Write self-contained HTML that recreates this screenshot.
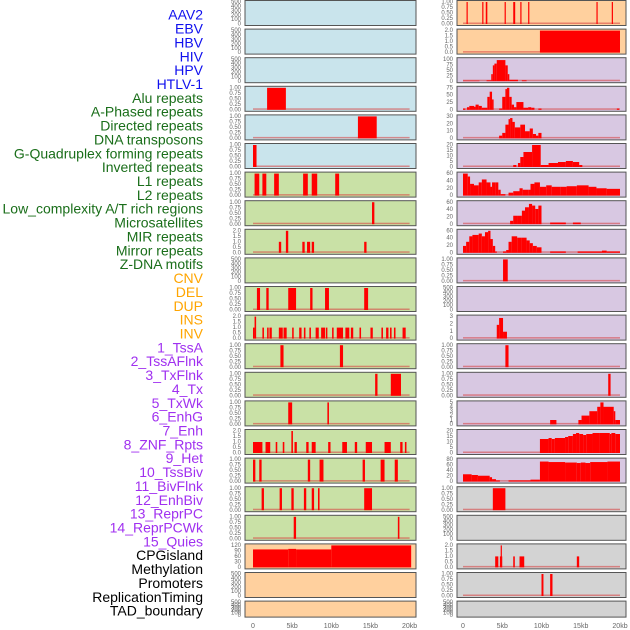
<!DOCTYPE html>
<html><head><meta charset="utf-8">
<style>
body{margin:0;background:#fff;}
svg{display:block;font-family:"Liberation Sans",sans-serif;}
</style></head>
<body>
<svg id="chart" width="630" height="630" viewBox="0 0 630 630"></svg>
<script>
const trackLabels=["AAV2","EBV","HBV","HIV","HPV","HTLV-1","Alu repeats","A-Phased repeats","Directed repeats","DNA transposons","G-Quadruplex forming repeats","Inverted repeats","L1 repeats","L2 repeats","Low_complexity A/T rich regions","Microsatellites","MIR repeats","Mirror repeats","Z-DNA motifs","CNV","DEL","DUP","INS","INV","1_TssA","2_TssAFlnk","3_TxFlnk","4_Tx","5_TxWk","6_EnhG","7_Enh","8_ZNF_Rpts","9_Het","10_TssBiv","11_BivFlnk","12_EnhBiv","13_ReprPC","14_ReprPCWk","15_Quies","CPGisland","Methylation","Promoters","ReplicationTiming","TAD_boundary"];
const labelColors=[].concat(Array(6).fill("#1010ee"),Array(13).fill("#1a6e1a"),Array(5).fill("#ffa500"),Array(15).fill("#a030f0"),Array(5).fill("#000"));
const xTickValues=[0,5,10,15,20];
const xTickLabels=["0","5kb","10kb","15kb","20kb"];
const leftBg=["b","b","b","b","b","b","g","g","g","g","g","g","g","g","g","g","g","g","g","o","o","o"];
const rightBg=["o","o","p","p","p","p","p","p","p","p","p","p","p","p","p","p","p","y","y","y","y","y"];
const leftMax=[null,null,null,1,1,1,1,1,2,null,1,2,1,1,1,2,1,1,1,120,null,null];
const rightMax=[1,2,125,85,40,22,75,65,80,1,null,3.2,1,1,5,22,90,1,null,2,1,null];
const leftTicks=[null,null,null,"1.00,0.75,0.50,0.25,0.00","1.00,0.75,0.50,0.25,0.00","1.00,0.75,0.50,0.25,0.00","1.00,0.75,0.50,0.25,0.00","1.00,0.75,0.50,0.25,0.00","2.0,1.5,1.0,0.5,0.0",null,"1.00,0.75,0.50,0.25,0.00","2.0,1.5,1.0,0.5,0.0","1.00,0.75,0.50,0.25,0.00","1.00,0.75,0.50,0.25,0.00","1.00,0.75,0.50,0.25,0.00","2.0,1.5,1.0,0.5,0.0","1.00,0.75,0.50,0.25,0.00","1.00,0.75,0.50,0.25,0.00","1.00,0.75,0.50,0.25,0.00","120,90,60,30,0",null,null];
const rightTicks=["1.00,0.75,0.50,0.25,0.00","2.0,1.5,1.0,0.5,0.0","100,75,50,25,0","75,50,25,0","30,20,10,0","20,15,10,5,0","60,40,20,0","60,40,20,0","60,40,20,0","1.00,0.75,0.50,0.25,0.00",null,"3,2,1,0","1.00,0.75,0.50,0.25,0.00","1.00,0.75,0.50,0.25,0.00","5,4,3,2,1,0","20,15,10,5,0","80,60,40,20,0","1.00,0.75,0.50,0.25,0.00",null,"2.0,1.5,1.0,0.5,0.0","1.00,0.75,0.50,0.25,0.00",null];
const leftData=[[],[],[],
[[1.8,4.2,1]],
[[13.4,15.8,1]],
[[0,0.45,1]],
[[0.2,0.8,1],[1.2,1.7,1],[2.7,3.3,1],[6.4,7.0,1],[7.5,8.2,1],[10.5,11.0,1]],
[[15.2,15.5,1]],
[[3.3,3.6,1],[4.2,4.5,2],[6.3,6.6,1],[6.9,7.3,1],[7.5,7.8,1],[14.2,14.5,1]],
[],
[[0.5,0.9,1],[1.7,2.0,1],[4.5,5.5,1],[7.3,7.6,1],[9.2,9.7,1],[14.2,14.7,1]],
[[0,0.2,1],[0.2,0.4,2],[1.2,1.4,1],[1.8,2.0,1],[2.1,2.4,1],[3.3,3.8,1],[3.9,4.3,1],[5.0,5.2,1],[5.9,6.2,1],[6.5,6.7,1],[7.2,7.4,1],[8.0,8.4,1],[8.7,9.2,1],[9.3,9.5,1],[10.1,10.3,1],[10.7,11.5,1],[11.8,12.3,1],[12.5,12.8,1],[13.6,13.8,1],[15.0,15.3,1],[16.4,16.6,1],[17.0,17.3,1],[17.5,17.7,1],[18.0,18.2,1],[19.1,19.5,1]],
[[3.5,3.9,1],[11.1,11.5,1]],
[[15.6,15.9,1],[17.6,18.9,1]],
[[4.5,5.0,1],[9.5,9.7,1]],
[[0,1.2,1],[1.6,2.2,1],[2.9,3.1,1],[3.8,4.0,1],[4.9,5.1,2],[5.3,5.6,1],[6.8,7.1,1],[7.5,8.0,1],[9.6,9.9,1],[11.4,12.0,1],[13.0,13.3,1],[14.4,15.2,1],[16.8,17.6,1],[18.8,19.1,1],[19.4,19.6,1]],
[[0,0.3,1],[0.8,1.1,1],[7.0,7.3,1],[8.5,9.0,1],[14.0,14.3,1],[16.3,16.8,1],[18.1,18.5,1]],
[[1.1,1.4,1],[3.4,3.7,1],[4.9,5.2,1],[6.5,6.8,1],[7.5,7.8,1],[8.3,8.5,1],[14.2,15.2,1]],
[[5.2,5.5,1],[18.5,18.7,1]],
[[0,4.5,98],[4.5,5.5,101],[5.5,10,98],[10,20.2,120]],
[],[]];
const rightData=[
[[0.45,0.6,1],[2.45,2.6,1],[2.9,3.1,1],[5.3,5.45,1],[6.4,6.65,1],[7.3,7.45,1],[8.3,8.45,1],[17.0,17.15,1],[18.95,19.1,1]],
[[9.8,20,2]],
[[0,2.1,3],[3.0,3.6,5],[3.6,3.8,40],[3.8,4.0,90],[4.0,4.3,100],[4.3,5.4,120],[5.4,5.7,90],[5.7,5.9,40],[5.9,7.0,8],[7.5,8.1,5]],
[[0,0.3,5],[0.5,0.8,10],[0.8,1.4,15],[1.4,1.6,12],[1.6,2.0,20],[2.0,2.4,15],[2.4,3.1,8],[3.1,3.4,50],[3.4,3.7,70],[3.7,3.9,40],[4.6,5.0,5],[5.0,5.4,50],[5.4,5.6,80],[5.6,5.9,85],[5.9,6.2,50],[6.2,6.5,20],[6.5,6.8,10],[6.8,7.2,30],[7.2,7.7,30],[7.7,8.3,8],[8.3,8.7,10],[8.7,9.1,8],[9.6,10.0,5],[19.6,19.9,5]],
[[4.6,5.0,5],[5.0,5.4,10],[5.4,5.8,25],[5.8,6.0,35],[6.0,6.3,37],[6.3,6.6,30],[6.6,7.3,20],[7.3,7.9,25],[7.9,8.5,13],[8.5,8.9,18],[8.9,9.3,8],[9.3,9.6,5],[9.6,10.0,10]],
[[6.4,6.8,2],[7.0,7.3,4],[7.3,7.7,10],[7.7,8.8,15],[8.8,9.9,22],[9.9,10.9,2],[10.9,12.1,4],[12.1,13.1,5],[13.1,14.0,6],[14.0,14.8,5],[14.8,15.2,2]],
[[0,0.6,75],[0.6,0.9,65],[0.9,1.4,40],[1.4,2.0,35],[2.0,2.4,45],[2.4,3.0,55],[3.0,3.5,45],[3.5,3.7,30],[3.7,4.1,45],[4.1,4.5,45],[4.5,4.8,20],[4.8,5.4,5],[5.8,6.4,10],[6.4,7.2,15],[7.2,7.6,25],[7.6,8.3,20],[8.3,8.6,20],[8.6,9.1,40],[9.1,9.8,45],[9.8,10.6,30],[10.6,11.3,35],[11.3,12.4,30],[12.4,13.2,30],[13.2,14.5,32],[14.5,16.0,35],[16.0,17.0,30],[17.0,18.3,25],[18.3,20.0,23]],
[[6.0,6.4,10],[6.4,7.0,25],[7.0,7.5,25],[7.5,7.9,40],[7.9,8.4,50],[8.4,8.8,60],[8.8,9.2,55],[9.2,9.6,45],[9.6,10.0,55],[11.1,13.1,5],[14.0,15.0,5]],
[[0,0.4,25],[0.4,0.8,40],[0.8,1.2,60],[1.2,2.0,65],[2.0,2.4,70],[2.4,2.8,60],[2.8,3.2,75],[3.2,3.5,80],[3.5,3.8,50],[3.8,4.1,25],[4.1,4.3,5],[5.1,5.5,5],[5.5,5.8,10],[5.8,6.2,40],[6.2,6.9,60],[6.9,7.5,55],[7.5,8.1,55],[8.1,8.5,45],[8.5,8.9,35],[8.9,9.4,25],[9.4,10.0,20],[11.1,13.1,5],[14.6,17.7,5],[17.7,18.3,8],[18.3,20.0,5]],
[[5.1,5.7,1]],
[],
[[4.3,4.6,2],[4.6,5.1,3],[5.1,5.6,1]],
[[5.4,5.8,1]],
[[18.5,18.8,1]],
[[11.1,11.9,1],[14.7,15.1,1],[15.1,16.1,2],[16.1,17.1,3],[17.1,17.5,4],[17.5,17.9,5],[17.9,19.2,4],[19.2,19.4,3],[19.4,20.0,1]],
[[9.8,10.9,14],[10.9,11.3,15],[11.3,11.7,14],[11.7,13.0,15],[13.0,13.4,16],[13.4,14.0,17],[14.0,14.4,19],[14.4,14.8,20],[14.8,15.3,19],[15.3,15.7,18],[15.7,16.5,19],[16.5,17.4,20],[17.4,18.7,20],[18.7,18.9,19],[18.9,19.4,20],[19.4,20.0,19]],
[[0,1.1,30],[1.1,1.9,27],[1.9,3.4,24],[3.4,3.7,18],[3.7,4.2,10],[4.2,4.7,5],[5.8,8.6,5],[8.6,9.8,8],[9.8,10.9,82],[10.9,13.0,80],[13.0,14.5,78],[14.5,15.0,76],[15.0,15.6,78],[15.6,16.2,76],[16.2,18.4,80],[18.4,20.0,82]],
[[3.8,5.4,1]],
[],
[[4.1,4.5,1],[4.7,5.0,1],[4.8,4.95,2],[6.4,6.6,1],[7.2,7.8,1],[14.5,14.8,1]],
[[10.0,10.25,1],[11.1,11.4,1]],
[]];
const bgColors={b:"#c9e4ec",g:"#c9e1a6",o:"#ffd09e",p:"#d8c8e2",y:"#d3d3d3"};
const NS="http://www.w3.org/2000/svg";
const svg=document.getElementById("chart");
function mk(tag,attrs,parent){const e=document.createElementNS(NS,tag);for(const k in attrs)e.setAttribute(k,attrs[k]);(parent||svg).appendChild(e);return e;}
function rowTop(i){return i*28.6+0.5;}
function rowH(i){return i===21?16:25;}
const panels=[{x0:245,x1:416,sx:kb=>253+kb*7.83,bg:leftBg,mx:leftMax,tk:leftTicks,data:leftData,tx:241,name:"left"},
{x0:457,x1:626,sx:kb=>463+kb*7.85,bg:rightBg,mx:rightMax,tk:rightTicks,data:rightData,tx:453,name:"right"}];
trackLabels.forEach((t,i)=>{
 const e=mk("text",{x:203,y:16+i*13.86,"text-anchor":"end","dominant-baseline":"middle","font-size":"14",fill:labelColors[i]});
 e.textContent=t;
 
 
});
panels.forEach(p=>{
 const g=mk("g",{});
 
 
 for(let i=0;i<22;i++){
  const top=rowTop(i),h=rowH(i);
  const r=mk("rect",{x:p.x0,y:top,width:p.x1-p.x0,height:h,fill:bgColors[p.bg[i]],stroke:"#555","stroke-width":1},g);
  
  
  const y0=top+h-1.5,ph=h-3;
  const max=p.mx[i];
  const ys=v=>y0-v/max*ph;
  const ticks=p.tk[i]?p.tk[i].split(","):["500","400","300","200","100","0"];
  ticks.forEach((t,k)=>{
   const ty=top+1.5+k*(ph/(ticks.length-1));
   const e=mk("text",{x:p.tx,y:ty,"text-anchor":"end","dominant-baseline":"middle","font-size":"6",fill:"#666"},g);
   e.textContent=t;
   
   
  });
  const d=p.data[i];
  if(d.length&&max){
   const bl=mk("rect",{x:p.sx(0),y:y0-1.5,width:p.sx(20)-p.sx(0),height:1.5,fill:"rgba(215,60,60,0.55)"},g);
   
   
   d.forEach(s=>{
    const x=p.sx(s[0]),w=Math.max(1.2,p.sx(s[1])-x),yy=ys(s[2]);
    const b=mk("rect",{x:x,y:yy,width:w,height:y0-yy,fill:"#ff0000"},g);
    
    
   });
  }
 }
 xTickValues.forEach((v,k)=>{
  const e=mk("text",{x:p.sx(v),y:628,"text-anchor":"middle","font-size":"7",fill:"#666"},g);
  e.textContent=xTickLabels[k];
  
  
 });
});
</script>
</body></html>
